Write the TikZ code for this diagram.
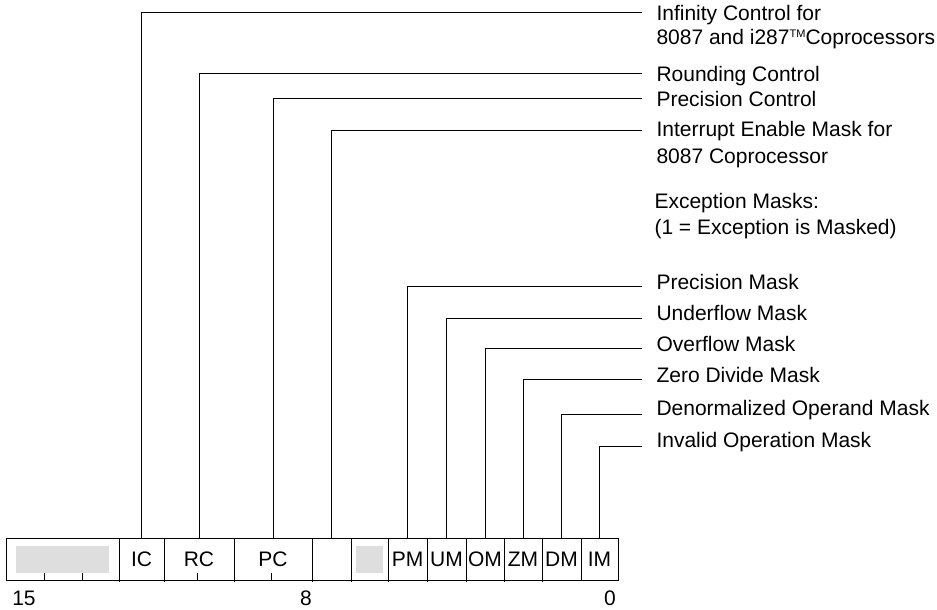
\documentclass[tikz,border=0pt]{standalone}
\usepackage{fontspec}
\setmainfont{Liberation Sans}
\usepackage{tikz}
\usetikzlibrary{positioning}
\definecolor{resgray}{gray}{0.87}
\newcommand{\tmark}{{\fontsize{5.5}{6}\selectfont\raisebox{3.6pt}{TM}}}
\tikzstyle{bitcell}=[draw,minimum height=21pt,inner sep=0pt,outer sep=0pt,anchor=west,font=\fontsize{10.5}{12}\selectfont]
\tikzstyle{resfill}=[fill=resgray,minimum height=13.5pt,inner sep=0pt,outer sep=0pt]
\tikzstyle{lbl}=[anchor=base west,inner sep=0pt,font=\fontsize{10.5}{12}\selectfont]
\tikzstyle{bitno}=[anchor=base,inner sep=0pt,font=\fontsize{10.5}{12}\selectfont]
\tikzstyle{lead}=[line width=0.5pt]

\begin{document}
\begin{tikzpicture}[x=0.5pt,y=-0.5pt,line width=0.5pt]
\path[use as bounding box] (0,0) rectangle (937,610);

% control word fields
\node[bitcell,minimum width=56.5pt] (rsv) at (6,559) {};
\node[bitcell,minimum width=22.5pt,right=0pt of rsv] (ic) {IC};
\node[bitcell,minimum width=35pt,right=0pt of ic] (rc) {RC};
\node[bitcell,minimum width=39pt,right=0pt of rc] (pc) {PC};
\node[bitcell,minimum width=19.5pt,right=0pt of pc] (iem) {};
\node[bitcell,minimum width=18.5pt,right=0pt of iem] (rsvb) {};
\node[bitcell,minimum width=19.5pt,right=0pt of rsvb] (pm) {PM};
\node[bitcell,minimum width=19.5pt,right=0pt of pm] (um) {UM};
\node[bitcell,minimum width=19pt,right=0pt of um] (om) {OM};
\node[bitcell,minimum width=19pt,right=0pt of om] (zm) {ZM};
\node[bitcell,minimum width=19.5pt,right=0pt of zm] (dm) {DM};
\node[bitcell,minimum width=18.5pt,right=0pt of dm] (im) {IM};

\node[resfill,minimum width=46.5pt] (rsvfill) at (rsv) {};
\node[resfill,minimum width=13.5pt] (rsvbfill) at (rsvb) {};

% bit ticks
\foreach \dx in {38,76}
  \draw ([xshift=\dx*0.5pt]rsv.south west) -- ++(0,-7);
\draw ([xshift=-1pt]rc.south) -- ++(0,-7) ([xshift=-1pt]pc.south) -- ++(0,-7);
\foreach \c in {ic,rc,pc,iem,rsvb,pm,um,om,zm,dm}
  \draw (\c.south west) -- ++(0,2);

\node[bitno] (b15) at (24,605) {15};
\node[bitno] (b8) at (306,605) {8};
\node[bitno] (b0) at (610,605) {0};

% labels
\coordinate (icEnd) at (642,13);
\node[lbl] (icTxt) at (656,21) {Infinity Control for};
\node[lbl] (icTxtB) at (656,45) {8087 and i287\tmark Coprocessors};
\coordinate (rcEnd) at (642,74);
\node[lbl] (rcTxt) at (656,82) {Rounding Control};
\coordinate (pcEnd) at (642,99);
\node[lbl] (pcTxt) at (656,107) {Precision Control};
\coordinate (iemEnd) at (642,131);
\node[lbl] (iemTxt) at (656,137) {Interrupt Enable Mask for};
\node[lbl] (iemTxtB) at (656,163) {8087 Coprocessor};
\node[lbl] (excTxt) at (654,208) {Exception Masks:};
\node[lbl] (excTxtB) at (654,234) {(1 = Exception is Masked)};

\coordinate (pmEnd) at (642,286);
\node[lbl] (pmTxt) at (656,289) {Precision Mask};
\coordinate (umEnd) at (642,318);
\node[lbl] (umTxt) at (656,320) {Underflow Mask};
\coordinate (omEnd) at (642,348);
\node[lbl] (omTxt) at (656,351) {Overflow Mask};
\coordinate (zmEnd) at (642,379);
\node[lbl] (zmTxt) at (656,382) {Zero Divide Mask};
\coordinate (dmEnd) at (642,414);
\node[lbl] (dmTxt) at (656,415) {Denormalized Operand Mask};
\coordinate (imEnd) at (642,446);
\node[lbl] (imTxt) at (656,447) {Invalid Operation Mask};

\draw[lead]
 (icEnd) -| (ic.north)
 (rcEnd) -| (rc.north)
 (pcEnd) -| (pc.north)
 (iemEnd) -| (iem.north)
 (pmEnd) -| (pm.north)
 (umEnd) -| (um.north)
 (omEnd) -| (om.north)
 (zmEnd) -| (zm.north)
 (dmEnd) -| (dm.north)
 (imEnd) -| (im.north)
;

\end{tikzpicture}
\end{document}
